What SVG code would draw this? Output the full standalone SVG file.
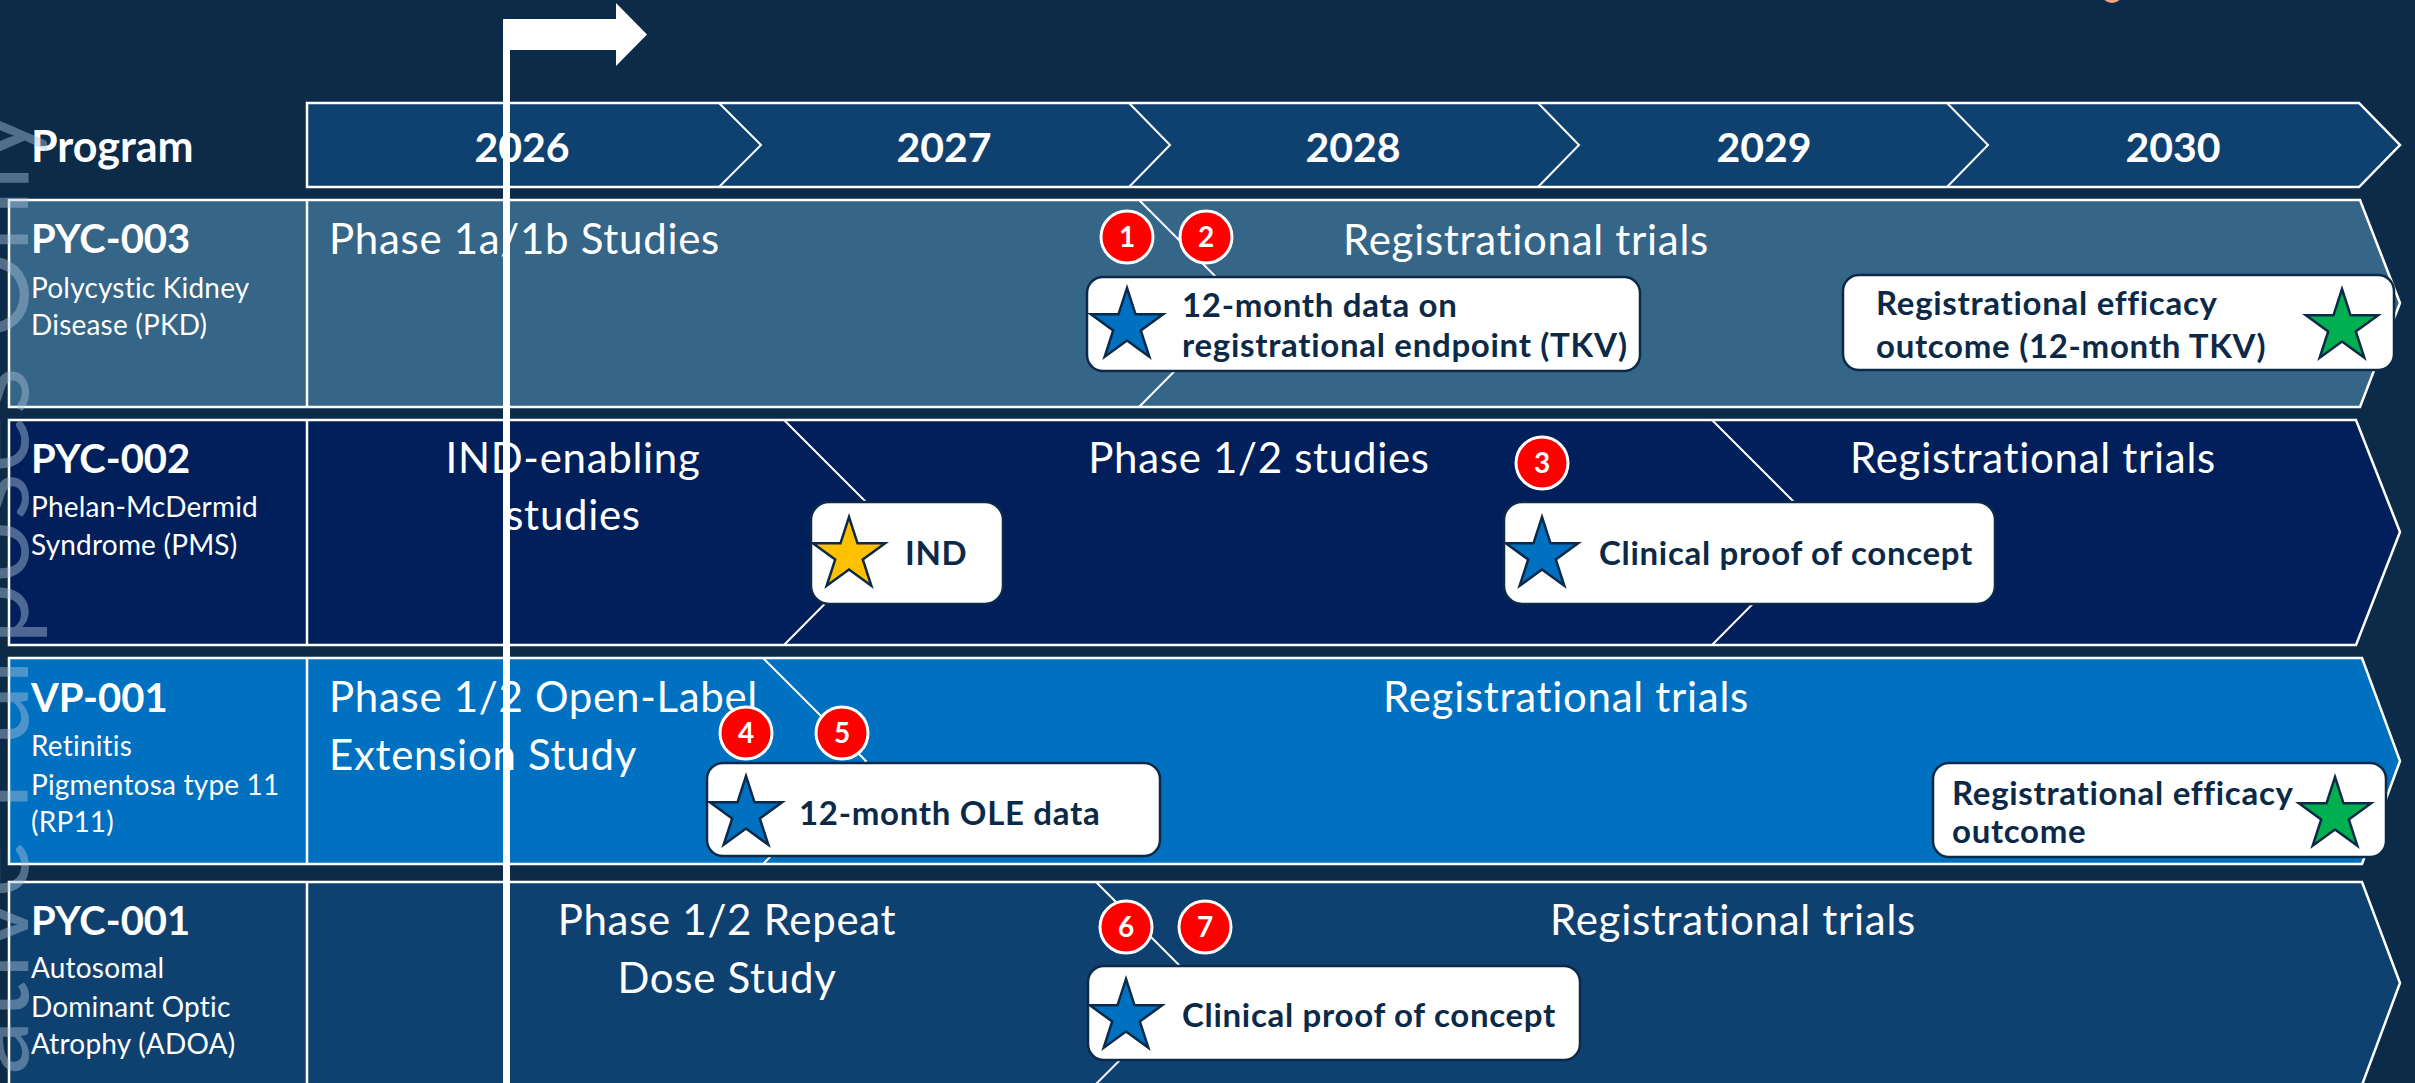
<svg xmlns="http://www.w3.org/2000/svg" width="2415" height="1083" viewBox="0 0 2415 1083">
<defs>
<style>
text{font-family:Lato,"Open Sans","Liberation Sans",sans-serif;}
.hd{fill:#fff;font-weight:700;font-size:43px;}
.yr{fill:#fff;font-weight:700;font-size:41px;text-anchor:middle;}
.pg{fill:#fff;font-weight:700;font-size:40px;}
.ds{fill:#fff;font-size:28px;letter-spacing:0.2px;}
.ph{fill:#fff;font-size:42px;letter-spacing:0.7px;}
.phc{fill:#fff;font-size:42px;letter-spacing:0.7px;text-anchor:middle;}
.bx{fill:#fff;stroke:#0c2a47;stroke-width:2.5;}
.bt{fill:#0c2a47;font-weight:700;font-size:33px;letter-spacing:0.7px;}
.row{stroke:#fff;stroke-width:2.5;}
.div{fill:none;stroke:#fff;stroke-width:2;}
.bd circle{fill:#ff0000;stroke:#fff;stroke-width:3;}
.bd text{fill:#fff;font-weight:700;font-size:28px;text-anchor:middle;}
.st{stroke:#0c2a47;stroke-width:2.5;stroke-linejoin:miter;}
.wm{fill:#a9c1d8;fill-opacity:0.45;font-weight:400;font-size:110px;}
</style>
<path id="star" d="M0,-38 L8.52,-11.73 L36.14,-11.74 L13.79,4.48 L22.34,30.74 L0,14.5 L-22.34,30.74 L-13.79,4.48 L-36.14,-11.74 L-8.52,-11.73 Z"/>
</defs>
<rect x="0" y="0" width="2415" height="1083" fill="#0c2b48"/>
<circle cx="2112" cy="-8" r="11" fill="#f5a47f"/>

<g id="header">
<path d="M307,103 L2359,103 L2400,145 L2359,187 L307,187 Z" fill="#0f4170" stroke="#fff" stroke-width="2.5"/>
<polyline class="div" points="719,103 761,145 719,187"/>
<polyline class="div" points="1129,103 1170,145 1129,187"/>
<polyline class="div" points="1538,103 1579,145 1538,187"/>
<polyline class="div" points="1947,103 1988,145 1947,187"/>
<text class="hd" x="31" y="162">Program</text>
<text class="yr" x="522" y="162">2026</text>
<text class="yr" x="944" y="162">2027</text>
<text class="yr" x="1353" y="162">2028</text>
<text class="yr" x="1764" y="162">2029</text>
<text class="yr" x="2173" y="162">2030</text>
</g>

<g id="row-pyc003">
<path class="row" d="M9,200 L2360,200 L2400,303 L2360,407 L9,407 Z" fill="#356587"/>
<line x1="307" y1="200" x2="307" y2="407" stroke="#fff" stroke-width="2.5"/>
<text class="pg" x="31" y="253">PYC-003</text>
<text class="ds" x="31" y="298">Polycystic Kidney</text>
<text class="ds" x="31" y="335">Disease (PKD)</text>
<text class="ph" x="329" y="254">Phase 1a/1b Studies</text>
<text class="phc" x="1526" y="255">Registrational trials</text>
</g>

<g id="row-pyc002">
<path class="row" d="M9,420 L2356,420 L2400,532 L2356,645 L9,645 Z" fill="#001f5b"/>
<line x1="307" y1="420" x2="307" y2="645" stroke="#fff" stroke-width="2.5"/>
<text class="pg" x="31" y="473">PYC-002</text>
<text class="ds" x="31" y="517">Phelan-McDermid</text>
<text class="ds" x="31" y="555">Syndrome (PMS)</text>
<text class="phc" x="573" y="473">IND-enabling</text>
<text class="phc" x="573" y="530">studies</text>
<text class="phc" x="1259" y="473">Phase 1/2 studies</text>
<text class="phc" x="2033" y="473">Registrational trials</text>
</g>

<g id="row-vp001">
<path class="row" d="M9,658 L2362,658 L2400,761 L2362,864 L9,864 Z" fill="#0070c0"/>
<line x1="307" y1="658" x2="307" y2="864" stroke="#fff" stroke-width="2.5"/>
<text class="pg" x="31" y="712">VP-001</text>
<text class="ds" x="31" y="756">Retinitis</text>
<text class="ds" x="31" y="795">Pigmentosa type 11</text>
<text class="ds" x="31" y="832">(RP11)</text>
<text class="ph" x="329" y="712">Phase 1/2 Open-Label</text>
<text class="ph" x="329" y="770">Extension Study</text>
<text class="phc" x="1566" y="712">Registrational trials</text>
</g>

<g id="row-pyc001">
<path class="row" d="M9,882 L2362,882 L2400,983 L2362,1085 L9,1085 Z" fill="#0f4170"/>
<line x1="307" y1="882" x2="307" y2="1085" stroke="#fff" stroke-width="2.5"/>
<text class="pg" x="31" y="935">PYC-001</text>
<text class="ds" x="31" y="978">Autosomal</text>
<text class="ds" x="31" y="1017">Dominant Optic</text>
<text class="ds" x="31" y="1054">Atrophy (ADOA)</text>
<text class="phc" x="727" y="935">Phase 1/2 Repeat</text>
<text class="phc" x="727" y="993">Dose Study</text>
<text class="phc" x="1733" y="935">Registrational trials</text>
</g>

<g id="connectors">
<polyline class="div" points="1139,200 1242,303 1139,407"/>
<polyline class="div" points="784,420 896,532 784,645"/>
<polyline class="div" points="1712,420 1824,532 1712,645"/>
<polyline class="div" points="763,658 866,761 763,864"/>
<polyline class="div" points="1096,882 1197,983 1096,1084"/>
</g>

<g id="ms-tkv12">
<rect class="bx" x="1087" y="277" width="553" height="94" rx="16"/>
<use href="#star" x="1127" y="326" class="st" fill="#0070c0"/>
<text class="bt" x="1182" y="317">12-month data on</text>
<text class="bt" x="1182" y="357">registrational endpoint (TKV)</text>
</g>
<g id="ms-pkd-outcome">
<rect class="bx" x="1843" y="275" width="551" height="95" rx="16"/>
<text class="bt" x="1876" y="315">Registrational efficacy</text>
<text class="bt" x="1876" y="358">outcome (12-month TKV)</text>
<use href="#star" x="2342" y="327" class="st" fill="#00b050"/>
</g>
<g id="ms-ind">
<rect class="bx" x="811" y="502" width="192" height="102" rx="18"/>
<use href="#star" x="849" y="555" class="st" fill="#ffc000"/>
<text class="bt" x="905" y="565">IND</text>
</g>
<g id="ms-pms-poc">
<rect class="bx" x="1504" y="502" width="491" height="102" rx="18"/>
<use href="#star" x="1542" y="555" class="st" fill="#0070c0"/>
<text class="bt" x="1599" y="565">Clinical proof of concept</text>
</g>
<g id="ms-ole">
<rect class="bx" x="707" y="763" width="453" height="93" rx="16"/>
<use href="#star" x="746" y="814" class="st" fill="#0070c0"/>
<text class="bt" x="799" y="825">12-month OLE data</text>
</g>
<g id="ms-rp11-outcome">
<rect class="bx" x="1933" y="763" width="453" height="94" rx="16"/>
<text class="bt" x="1952" y="805">Registrational efficacy</text>
<text class="bt" x="1952" y="843">outcome</text>
<use href="#star" x="2335" y="815" class="st" fill="#00b050"/>
</g>
<g id="ms-adoa-poc">
<rect class="bx" x="1088" y="966" width="492" height="94" rx="16"/>
<use href="#star" x="1126" y="1017" class="st" fill="#0070c0"/>
<text class="bt" x="1182" y="1027">Clinical proof of concept</text>
</g>

<g id="badges" class="bd">
<g id="b1"><circle cx="1127" cy="237" r="26"/><text x="1127" y="247">1</text></g>
<g id="b2"><circle cx="1206" cy="237" r="26"/><text x="1206" y="247">2</text></g>
<g id="b3"><circle cx="1542" cy="463" r="26"/><text x="1542" y="473">3</text></g>
<g id="b4"><circle cx="746" cy="733" r="26"/><text x="746" y="743">4</text></g>
<g id="b5"><circle cx="842" cy="733" r="26"/><text x="842" y="743">5</text></g>
<g id="b6"><circle cx="1126" cy="927" r="26"/><text x="1126" y="937">6</text></g>
<g id="b7"><circle cx="1205" cy="927" r="26"/><text x="1205" y="937">7</text></g>
</g>

<g id="today-marker" fill="#fff">
<rect x="503" y="19" width="7" height="1070"/>
<rect x="503" y="19" width="114" height="31"/>
<polygon points="616,3 647,34.5 616,66"/>
</g>

<text class="wm" transform="translate(28,108) rotate(-90)" text-anchor="end">Illustrative Purposes Only</text>
</svg>
